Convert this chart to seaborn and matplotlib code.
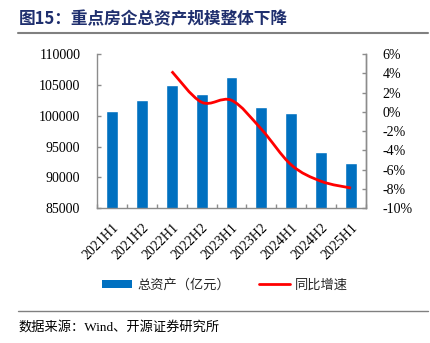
import numpy as np
import pandas as pd
import matplotlib
matplotlib.use("Agg")
import matplotlib.pyplot as plt
import seaborn as sns
from matplotlib.path import Path
from matplotlib.patches import PathPatch, Patch
from matplotlib.lines import Line2D
from matplotlib.ticker import FuncFormatter, FixedLocator

# ---- data ----
periods = ["2021H1", "2021H2", "2022H1", "2022H2", "2023H1",
           "2023H2", "2024H1", "2024H2", "2025H1"]
total_assets = [100750, 102500, 104950, 103600, 106300,
                101400, 100400, 94100, 92400]
growth_periods = ["2022H1", "2022H2", "2023H1", "2023H2",
                  "2024H1", "2024H2", "2025H1"]
growth_pct = [4.2, 1.0, 1.2, -1.8, -5.5, -7.2, -7.9]
left_ticks = [85000, 90000, 95000, 100000, 105000, 110000]
right_ticks = [-10, -8, -6, -4, -2, 0, 2, 4, 6]

title = "图15：重点房企总资产规模整体下降"
bar_label = "总资产（亿元）"
line_label = "同比增速"
source = "数据来源：Wind、开源证券研究所"

sns.set_theme(style="white")
plt.rcParams["font.family"] = ["Liberation Serif", "Noto Sans CJK SC", "DejaVu Sans"]
plt.rcParams["axes.unicode_minus"] = False

W, H = 430, 343
fig = plt.figure(figsize=(W / 100, H / 100), dpi=100)
ax = fig.add_axes([97 / W, 1 - 208.3 / H, (366 - 97) / W, (208.3 - 54) / H])

df = pd.DataFrame({"period": periods, "assets": total_assets})
sns.barplot(data=df, x="period", y="assets", color="#0070C0", saturation=1,
            width=0.4, ax=ax, order=periods)
ax.set_xlim(-0.5, len(periods) - 0.5)
ax.set_ylim(left_ticks[0], left_ticks[-1])
ax.set_yticks(left_ticks)
ax.set_xlabel("")
ax.set_ylabel("")

spine_c = "#8C8C8C"
for s in ["left", "bottom", "right"]:
    ax.spines[s].set_visible(True)
    ax.spines[s].set_color(spine_c)
    ax.spines[s].set_linewidth(1.0)
ax.spines["top"].set_visible(False)

ax.tick_params(axis="y", direction="in", length=3, color=spine_c, width=1,
               labelsize=10, pad=12, labelcolor="#000000", left=True)
ax.xaxis.set_minor_locator(FixedLocator(np.arange(-0.5, len(periods), 1.0)))
ax.tick_params(axis="x", which="major", length=0, labelsize=10, pad=9,
               labelcolor="#000000")
ax.tick_params(axis="x", which="minor", direction="in", length=3,
               color=spine_c, width=1, bottom=True)
for lab in ax.get_xticklabels():
    lab.set_rotation(45)
    lab.set_ha("right")
    lab.set_va("top")
    lab.set_rotation_mode("anchor")
ax.yaxis.set_major_formatter(FuncFormatter(lambda v, p: f"{int(v)}"))

ax2 = ax.twinx()
ax2.set_ylim(right_ticks[0], right_ticks[-1])
ax2.set_yticks(right_ticks)
ax2.yaxis.set_major_formatter(FuncFormatter(lambda v, p: f"{v:.0f}%"))
ax2.tick_params(axis="y", direction="in", length=3, color=spine_c, width=1,
                labelsize=10, pad=12, labelcolor="#000000")
for s in ["left", "bottom", "top"]:
    ax2.spines[s].set_visible(False)
ax2.spines["right"].set_color(spine_c)
ax2.spines["right"].set_linewidth(1.0)
ax2.grid(False)
ax.grid(False)

# smoothed line (Bezier through the data points)
xs = np.array([periods.index(p) for p in growth_periods], dtype=float)
ys = np.array(growth_pct, dtype=float)
pts = np.column_stack([xs, ys])
n = len(pts)
verts = [tuple(pts[0])]
codes = [Path.MOVETO]
for i in range(n - 1):
    p0 = pts[i - 1] if i > 0 else pts[i]
    p1 = pts[i]
    p2 = pts[i + 1]
    p3 = pts[i + 2] if i + 2 < n else pts[i + 1]
    c1 = p1 + (p2 - p0) / 6.0
    c2 = p2 - (p3 - p1) / 6.0
    verts += [tuple(c1), tuple(c2), tuple(p2)]
    codes += [Path.CURVE4] * 3
ax2.add_patch(PathPatch(Path(verts, codes), facecolor="none",
                        edgecolor="#FF0000", linewidth=2.0))

# title + rules
fig.text(19 / W, 1 - 19 / H, title, fontsize=12, fontweight="bold",
         color="#1F2F6E", va="center", ha="left",
         family=["Noto Sans CJK SC", "DejaVu Sans"])
fig.add_artist(Line2D([18 / W, 428 / W], [1 - 33 / H, 1 - 33 / H],
                      color="#808080", linewidth=1.5))
fig.add_artist(Line2D([18 / W, 428 / W], [1 - 311 / H, 1 - 311 / H],
                      color="#808080", linewidth=1.0))
fig.text(18 / W, 1 - 327 / H, source, fontsize=9.5, color="#000000",
         va="center", ha="left",
         family=["Liberation Serif", "Noto Sans CJK SC", "DejaVu Sans"])

handles = [Patch(facecolor="#0070C0", edgecolor="none"),
           Line2D([0], [0], color="#FF0000", linewidth=2.0)]
leg = fig.legend(handles, [bar_label, line_label], loc="center",
                 bbox_to_anchor=(225 / W, 1 - 285 / H), ncol=2, frameon=False,
                 prop={"family": ["Noto Sans CJK SC", "DejaVu Sans"], "size": 9.5},
                 handlelength=2.3, handleheight=0.5, handletextpad=0.4,
                 columnspacing=2.2)

fig.savefig("out.png", dpi=100)
